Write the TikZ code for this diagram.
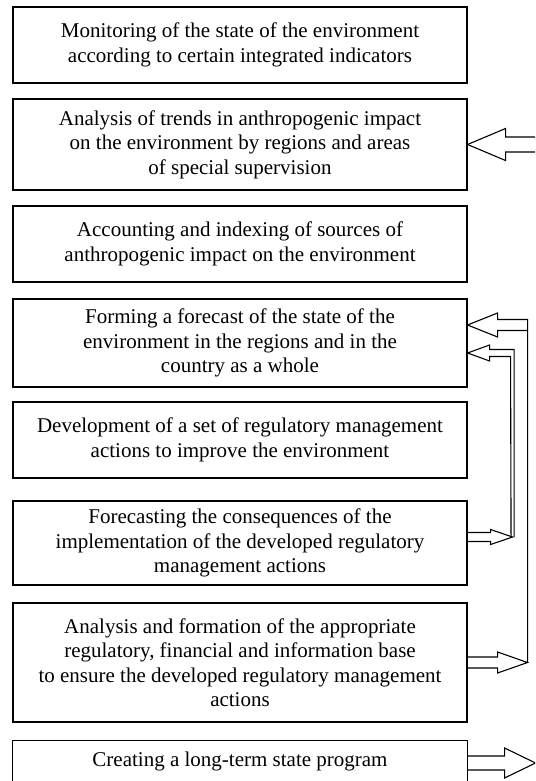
\documentclass[tikz,border=0pt]{standalone}
\usepackage{fontspec}
\setmainfont{Liberation Serif}
\usetikzlibrary{calc}
\begin{document}
\begin{tikzpicture}[x=1pt,y=-1pt,
  box/.style={draw,line width=1.1pt,minimum width=454pt,align=center,inner sep=0pt,
    font=\fontsize{21}{24.5}\selectfont},
  arr/.style={draw,line width=1.1pt,line join=miter}]
\clip (0,0) rectangle (535,781);
\fill[white] (0,0) rectangle (535,781);
\node[box,minimum height=76pt] (b1) at (240,45) {Monitoring of the state of the environment\\according to certain integrated indicators};
\node[box,minimum height=91pt] (b2) at (240,144.5) {Analysis of trends in anthropogenic impact\\on the environment by regions and areas\\of special supervision};
\node[box,minimum height=76pt] (b3) at (240,244) {Accounting and indexing of sources of\\anthropogenic impact on the environment};
\node[box,minimum height=88pt] (b4) at (240,343) {Forming a forecast of the state of the\\environment in the regions and in the\\country as a whole};
\node[box,minimum height=76pt] (b5) at (240,440) {Development of a set of regulatory management\\actions to improve the environment};
\node[box,minimum height=84pt] (b6) at (240,543) {Forecasting the consequences of the\\implementation of the developed regulatory\\management actions};
\node[box,minimum height=119pt] (b7) at (240,662.5) {Analysis and formation of the appropriate\\regulatory, financial and information base\\to ensure the developed regulatory management\\actions};
\node[box,draw=none,minimum height=40pt] (b8) at (240,761) {Creating a long-term state program};
\draw[arr] ([yshift=-20pt]b8.south west) |- (b8.north east) -- ++(0,50);
% arrow into b2
\draw[arr] (b2.east) -- ++(38,-16) -- ++(0,8.5) -- ++(45,0);
\draw[arr] (b2.east) -- ++(38,16) -- ++(0,-8.5) -- ++(45,0);
% box7 arrow
\coordinate (c7) at (b7.east);
\coordinate (t7) at ($(c7)+(60,0)$);
\draw[arr] ($(c7)+(0,-5.5)$) -- ++(30,0) -- ++(0,-5) -- (t7) -- ++(-30,10.5) -- ++(0,-5) -- ($(c7)+(0,5.5)$);
% arrow A into b4
\coordinate (ta) at ([yshift=18pt]b4.east);
\draw[arr] (t7) -- ($(ta)+(60,-5.5)$) -- ++(-30,0) -- ++(0,-6.5) -- (ta) -- ++(30,12) -- ++(0,-6.5) -- ($(ta)+(60,5.5)$);
% box6 arrow
\coordinate (c6) at ([yshift=6pt]b6.east);
\coordinate (t6) at ($(c6)+(45,0)$);
\draw[arr] ($(c6)+(0,-4.5)$) -- ++(23,0) -- ++(0,-3) -- (t6) -- ++(-22,7.5) -- ++(0,-3) -- ($(c6)+(0,4.5)$);
% arrow B into b4
\coordinate (tb) at ([yshift=-10pt]b4.east);
\draw[arr] ($(t6)+(1.5,0)$) -- ($(tb)+(46.5,-3.5)$) -- ++(-24.5,0) -- ++(0,-4.5) -- (tb) -- ++(22,8) -- ++(0,-4.5) -- ($(tb)+(43,3.5)$) -- ($(t6)+(-1.5,0)$);
% box8 arrow
\coordinate (c8) at ([yshift=-2pt]b8.east);
\draw[arr] ($(c8)+(0,-7)$) -- ++(37,0) -- ++(0,-8) -- ++(31,15) -- ++(-31,15) -- ++(0,-8) -- ($(c8)+(0,7)$);
\end{tikzpicture}
\end{document}
